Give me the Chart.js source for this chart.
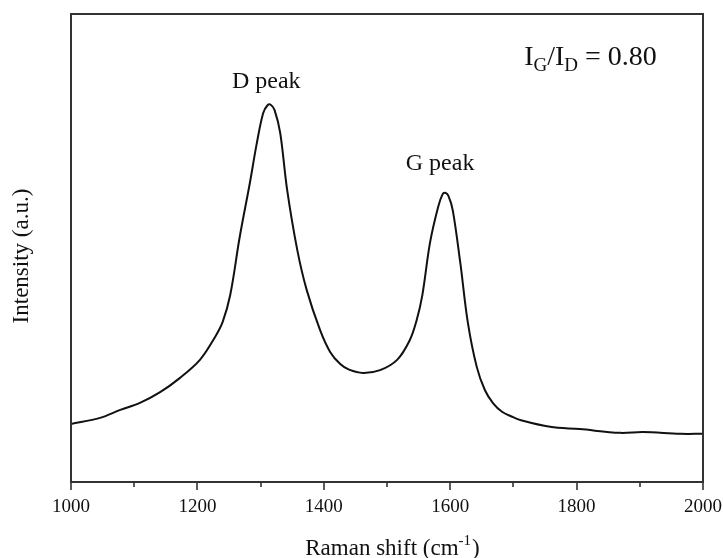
<!DOCTYPE html>
<html>
<head>
<meta charset="utf-8">
<script src="https://cdn.jsdelivr.net/npm/chart.js@4"></script>
<style>
  html, body { margin: 0; padding: 0; background: #fff; }
  #wrap { width: 723px; height: 558px; }
</style>
</head>
<body>
<div id="wrap"><canvas id="myChart" width="723" height="558"></canvas></div>
<script>
// spectrum
const ramanShift = [1000, 1046, 1078, 1109, 1141, 1172, 1204, 1228, 1240, 1252, 1267, 1283, 1294, 1304, 1311, 1316, 1322, 1331, 1342, 1358, 1373, 1394, 1410, 1426, 1440, 1462, 1489, 1516, 1536, 1547, 1556, 1568, 1581, 1588, 1592, 1597, 1604, 1616, 1628, 1642, 1655, 1668, 1682, 1697, 1712, 1758, 1805, 1869, 1905, 1964, 2000];
const intensity = [12.4, 13.7, 15.4, 16.9, 19.2, 22.2, 26.1, 31.0, 34.2, 40.0, 52.4, 63.9, 72.4, 78.8, 80.5, 80.6, 79.5, 74.6, 62.4, 49.6, 41.0, 32.5, 27.8, 25.2, 24.0, 23.3, 23.9, 26.1, 30.3, 34.6, 40.0, 51.1, 58.8, 61.5, 61.8, 61.2, 58.1, 46.8, 34.0, 24.6, 19.6, 16.8, 15.0, 14.0, 13.2, 11.8, 11.3, 10.5, 10.7, 10.3, 10.3];

const majorTicks = [1000, 1200, 1400, 1600, 1800, 2000];
const minorTicks = [1100, 1300, 1500, 1700, 1900];

const peakNames = ["D peak", "G peak"];
const ratioText = ["I", "G", "/I", "D", " = 0.80"];

const serif = "'Liberation Serif', 'Times New Roman', serif";

let points = [];
for (let i = 0; i < ramanShift.length; i++) {
  points.push({ x: ramanShift[i], y: intensity[i] });
}

// frame, ticks, titles and annotations
const decor = {
  id: "decor",
  afterDraw(chart) {
    const ctx = chart.ctx;
    const a = chart.chartArea;
    const xs = chart.scales.x;
    const ys = chart.scales.y;
    ctx.save();
    ctx.strokeStyle = "#333";
    ctx.lineWidth = 2;
    ctx.strokeRect(a.left, a.top, a.right - a.left, a.bottom - a.top);

    ctx.lineWidth = 1.6;
    majorTicks.forEach(function (v) {
      const px = Math.round(xs.getPixelForValue(v));
      ctx.beginPath();
      ctx.moveTo(px, a.bottom);
      ctx.lineTo(px, a.bottom + 8);
      ctx.stroke();
    });
    minorTicks.forEach(function (v) {
      const px = Math.round(xs.getPixelForValue(v));
      ctx.beginPath();
      ctx.moveTo(px, a.bottom);
      ctx.lineTo(px, a.bottom + 5);
      ctx.stroke();
    });

    ctx.fillStyle = "#111";

    // x title with superscript
    ctx.textBaseline = "alphabetic";
    ctx.textAlign = "left";
    const big = "23px " + serif;
    const sup = "15px " + serif;
    ctx.font = big;
    const w1 = ctx.measureText("Raman shift (cm").width;
    const w3 = ctx.measureText(")").width;
    ctx.font = sup;
    const w2 = ctx.measureText("-1").width;
    const cx = (a.left + a.right) / 2 + 5;
    let x0 = cx - (w1 + w2 + w3) / 2;
    ctx.font = big;
    ctx.fillText("Raman shift (cm", x0, 555);
    ctx.font = sup;
    ctx.fillText("-1", x0 + w1, 545);
    ctx.font = big;
    ctx.fillText(")", x0 + w1 + w2 + 1, 555);

    // y title
    ctx.save();
    ctx.translate(28, (a.top + a.bottom) / 2 + 8);
    ctx.rotate(-Math.PI / 2);
    ctx.textAlign = "center";
    ctx.font = big;
    ctx.fillText("Intensity (a.u.)", 0, 0);
    ctx.restore();

    // peak labels
    ctx.textAlign = "center";
    ctx.font = "24px " + serif;
    ctx.fillText(peakNames[0], xs.getPixelForValue(1309), ys.getPixelForValue(84.2));
    ctx.fillText(peakNames[1], xs.getPixelForValue(1584), ys.getPixelForValue(66.7));

    // I_G/I_D ratio, right aligned
    const fBig = "28px " + serif;
    const fSub = "19px " + serif;
    let widths = [];
    let total = 0;
    for (let i = 0; i < ratioText.length; i++) {
      ctx.font = i % 2 == 1 ? fSub : fBig;
      widths.push(ctx.measureText(ratioText[i]).width);
      total += widths[i];
    }
    let rx = xs.getPixelForValue(1927) - total;
    const base = ys.getPixelForValue(89.1);
    ctx.textAlign = "left";
    for (let i = 0; i < ratioText.length; i++) {
      ctx.font = i % 2 == 1 ? fSub : fBig;
      ctx.fillText(ratioText[i], rx, i % 2 == 1 ? base + 6 : base);
      rx += widths[i];
    }
    ctx.restore();
  },
};

const ctx1 = document.getElementById("myChart").getContext("2d");
const myChart = new Chart(ctx1, {
  type: "scatter",
  data: {
    datasets: [
      {
        label: "Raman",
        data: points,
        showLine: true,
        borderColor: "#111",
        borderWidth: 2,
        pointRadius: 0,
        tension: 0.35,
      },
    ],
  },
  options: {
    responsive: false,
    animation: false,
    layout: { padding: { top: 14, right: 20, left: 0, bottom: 0 } },
    plugins: { legend: { display: false }, tooltip: { enabled: false } },
    scales: {
      x: {
        type: "linear",
        min: 1000,
        max: 2000,
        afterFit: function (s) {
          s.height = 76;
          s.paddingLeft = 0;
          s.paddingRight = 0;
        },
        afterBuildTicks: function (s) {
          s.ticks = majorTicks.map(function (v) { return { value: v }; });
        },
        grid: { drawOnChartArea: false, color: "transparent", tickLength: 8 },
        border: { display: false },
        ticks: {
          color: "#111",
          padding: 6,
          maxRotation: 0,
          font: { family: serif, size: 19 },
          callback: function (v) { return String(v); },
        },
      },
      y: {
        min: 0,
        max: 100,
        afterFit: function (s) { s.width = 71; },
        grid: { display: false },
        border: { display: false },
        ticks: { display: false },
      },
    },
  },
  plugins: [decor],
});
</script>
</body>
</html>
